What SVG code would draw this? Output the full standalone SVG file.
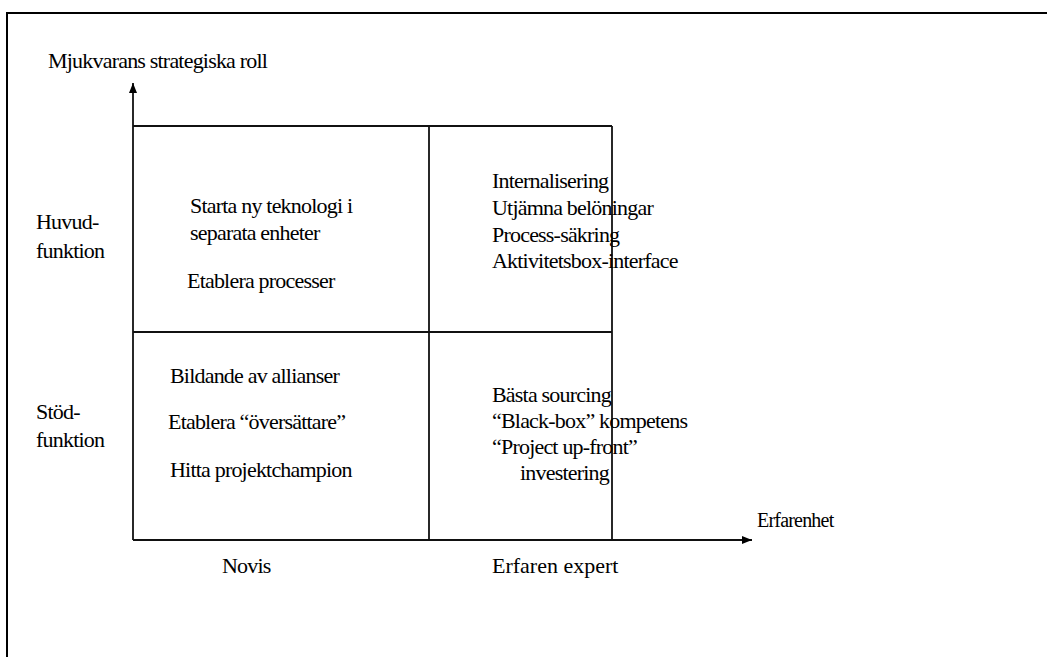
<svg xmlns="http://www.w3.org/2000/svg" width="1047" height="657" viewBox="0 0 1047 657">
<style>
text{font-family:'Liberation Serif','Times New Roman','DejaVu Serif',serif;font-size:22px;letter-spacing:-0.8px;fill:#000}
.ln{stroke:#111;stroke-width:1.8;fill:none}
.fr{stroke:#000;stroke-width:2;fill:none}
</style>
<defs>
<marker id="ah" markerWidth="10" markerHeight="8" refX="10" refY="4" orient="auto" markerUnits="userSpaceOnUse">
<path d="M0,0 L10,4 L0,8 Z" fill="#000"/>
</marker>
</defs>
<rect width="1047" height="657" fill="#fff"/>
<path class="fr" d="M7,657 L7,13 L1047,13"/>
<g id="connectors">
<line class="ln" x1="133" y1="540" x2="133" y2="83" marker-end="url(#ah)"/>
<line class="ln" x1="133" y1="540" x2="752" y2="540" marker-end="url(#ah)"/>
<line class="ln" x1="133" y1="126" x2="612" y2="126"/>
<line class="ln" x1="133" y1="332" x2="612" y2="332"/>
<line class="ln" x1="429" y1="126" x2="429" y2="540"/>
<line class="ln" x1="612" y1="126" x2="612" y2="540"/>
</g>
<g id="axis-y-label"><text x="48" y="68">Mjukvarans strategiska roll</text></g>
<g id="axis-x-label"><text x="757" y="527" style="font-size:20px">Erfarenhet</text></g>
<g id="row-huvud"><text x="36" y="229">Huvud-</text><text x="36" y="258">funktion</text></g>
<g id="row-stod"><text x="36" y="419">Stöd-</text><text x="36" y="447">funktion</text></g>
<g id="col-novis"><text x="222" y="573">Novis</text></g>
<g id="col-expert"><text x="492" y="573" style="letter-spacing:0px">Erfaren expert</text></g>
<g id="q-top-left">
<text x="190" y="213">Starta ny teknologi i</text>
<text x="190" y="240">separata enheter</text>
<text x="187" y="288">Etablera processer</text>
</g>
<g id="q-top-right">
<text x="492" y="188">Internalisering</text>
<text x="492" y="215">Utjämna belöningar</text>
<text x="492" y="242">Process-säkring</text>
<text x="492" y="268">Aktivitetsbox-interface</text>
</g>
<g id="q-bottom-left">
<text x="170" y="383">Bildande av allianser</text>
<text x="168" y="429">Etablera “översättare”</text>
<text x="170" y="477">Hitta projektchampion</text>
</g>
<g id="q-bottom-right">
<text x="492" y="402">Bästa sourcing</text>
<text x="492" y="428">“Black-box” kompetens</text>
<text x="492" y="454">“Project up-front”</text>
<text x="520" y="480">investering</text>
</g>
</svg>
